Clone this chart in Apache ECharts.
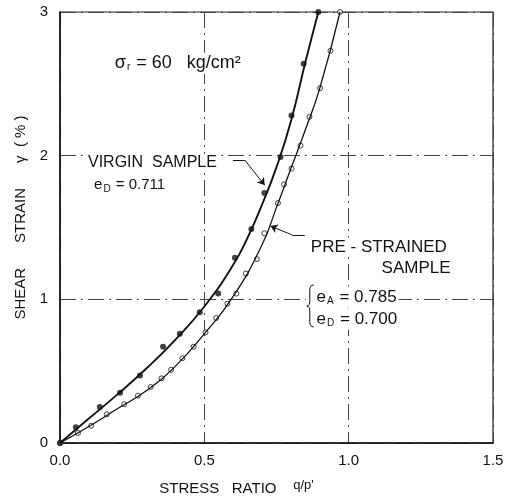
<!DOCTYPE html>
<html>
<head>
<meta charset="utf-8">
<script src="https://cdn.jsdelivr.net/npm/echarts@6/dist/echarts.min.js"></script>
<style>
  html, body { margin: 0; background: #fff; }
  #chart { width: 507px; height: 502px; }
</style>
</head>
<body>
<div id="chart"></div>
<script>
// measured points: stress ratio q/p' vs shear strain (%)
const virginRatio = [0, 0.055, 0.138, 0.208, 0.277, 0.357, 0.415, 0.484, 0.548, 0.606, 0.663, 0.708, 0.764, 0.802, 0.844, 0.895];
const virginStrain = [0, 0.11, 0.25, 0.35, 0.47, 0.67, 0.76, 0.91, 1.04, 1.29, 1.49, 1.74, 1.99, 2.28, 2.64, 3.0];

const preRatio = [0, 0.062, 0.108, 0.162, 0.222, 0.270, 0.314, 0.352, 0.385, 0.424, 0.463, 0.504, 0.541, 0.580, 0.611, 0.644, 0.682, 0.708, 0.755, 0.776, 0.802, 0.833, 0.864, 0.901, 0.937, 0.970];
const preStrain = [0, 0.07, 0.12, 0.20, 0.27, 0.33, 0.39, 0.45, 0.51, 0.59, 0.67, 0.77, 0.87, 0.97, 1.04, 1.18, 1.28, 1.46, 1.67, 1.80, 1.91, 2.07, 2.27, 2.47, 2.73, 3.0];

// hand-drawn fitted curves
const virginCurveRatio = [0, 0.1, 0.2, 0.3, 0.4, 0.5, 0.6, 0.65, 0.7, 0.75, 0.8, 0.85, 0.895];
const virginCurveStrain = [0, 0.17, 0.34, 0.52, 0.72, 0.95, 1.24, 1.43, 1.66, 1.92, 2.24, 2.65, 3.0];

const preCurveRatio = [0, 0.1, 0.2, 0.3, 0.4, 0.5, 0.6, 0.7, 0.75, 0.8, 0.85, 0.9, 0.97];
const preCurveStrain = [0, 0.115, 0.24, 0.365, 0.535, 0.76, 1.02, 1.38, 1.64, 1.91, 2.18, 2.47, 3.0];

const xTicks = ['0.0', '0.5', '1.0', '1.5'];
const yTicks = ['0', '1', '2', '3'];

const ink = '#111';
const font = '"Liberation Sans", Arial, sans-serif';

const chart = echarts.init(document.getElementById('chart'));

function pairs(xs, ys) { return xs.map((x, i) => [x, ys[i]]); }

const sub = { fontSize: 10, fontFamily: font, color: ink, padding: [9, 1, 0, 1] };

chart.setOption({
  animation: false,
  grid: { left: 60, right: 14, top: 12, bottom: 59, show: true, borderColor: '#222', borderWidth: 1.2 },
  xAxis: {
    type: 'value', min: 0, max: 1.5, interval: 0.5,
    axisLine: { lineStyle: { color: ink, width: 1.5 } },
    axisTick: { show: false },
    axisLabel: { color: ink, fontSize: 15, fontFamily: font, margin: 10, formatter: (v) => xTicks[Math.round(v * 2)] },
    splitLine: { lineStyle: { color: '#444', width: 1, type: [16, 5, 2, 5] } },
    name: "STRESS   RATIO    {q|q/p'}",
    nameLocation: 'middle', nameGap: 36,
    nameTextStyle: {
      color: ink, fontSize: 15, fontFamily: font, padding: [0, 80, 0, 0],
      rich: { q: { fontSize: 13, fontFamily: font, color: ink, padding: [0, 0, 6, 0] } },
    },
  },
  yAxis: {
    type: 'value', min: 0, max: 3, interval: 1,
    axisLine: { lineStyle: { color: ink, width: 1.5 } },
    axisTick: { show: false },
    axisLabel: { color: ink, fontSize: 15, fontFamily: font, margin: 12, formatter: (v) => yTicks[v] },
    splitLine: { lineStyle: { color: '#444', width: 1, type: [16, 5, 2, 5] } },
    name: 'SHEAR      STRAIN      γ  ( % )',
    nameLocation: 'middle', nameGap: 30, nameRotate: 90,
    nameTextStyle: { color: ink, fontSize: 15, fontFamily: font, padding: [0, 0, 0, 20] },
  },
  series: [
    {
      name: 'pre-strained curve', type: 'line', smooth: 0.5, symbol: 'none',
      data: pairs(preCurveRatio, preCurveStrain),
      lineStyle: { color: ink, width: 1.3 },
      markLine: {
        silent: true, symbol: 'none', label: { show: false },
        lineStyle: { color: ink, width: 1, type: 'solid' },
        data: [
          [{ coord: [0.848, 1.447] }, { coord: [0.806, 1.447] }],
          [{ coord: [0.806, 1.447] }, { coord: [0.729, 1.51], symbol: 'arrow', symbolSize: 7 }],
        ],
      },
    },
    {
      name: 'virgin curve', type: 'line', smooth: 0.5, symbol: 'none',
      data: pairs(virginCurveRatio, virginCurveStrain),
      lineStyle: { color: ink, width: 1.9 },
      markLine: {
        silent: true, symbol: 'none', label: { show: false },
        lineStyle: { color: ink, width: 1, type: 'solid' },
        data: [
          [{ coord: [0.599, 1.97] }, { coord: [0.640, 1.97] }],
          [{ coord: [0.640, 1.97] }, { coord: [0.709, 1.795], symbol: 'arrow', symbolSize: 7 }],
        ],
      },
    },
    {
      name: 'pre-strained', type: 'scatter',
      data: pairs(preRatio, preStrain),
      symbol: 'circle', symbolSize: 5,
      itemStyle: { color: '#fff', borderColor: ink, borderWidth: 1 },
    },
    {
      name: 'virgin', type: 'scatter',
      data: pairs(virginRatio, virginStrain),
      symbol: 'circle', symbolSize: 6,
      itemStyle: { color: ink },
    },
  ],
});

// text notes placed in data units
function note(x, y, text, size, align) {
  const p = chart.convertToPixel({ gridIndex: 0 }, [x, y]);
  return {
    type: 'text', x: p[0], y: p[1], z: 10,
    style: {
      text: text, fill: ink, fontSize: size, fontFamily: font,
      align: align || 'left', verticalAlign: 'middle',
      backgroundColor: '#fff', padding: [1, 2],
      rich: { s: sub, n: { fontSize: size, fontFamily: font, color: ink } },
    },
  };
}

// curly brace grouping the two void ratios, top-left corner in data units
function brace(x, y) {
  const p = chart.convertToPixel({ gridIndex: 0 }, [x, y]);
  const st = { fill: 'none', stroke: ink, lineWidth: 1 };
  const curve = (x1, y1, cx1, cy1, cx2, cy2, x2, y2) => ({
    type: 'bezierCurve', shape: { x1, y1, cpx1: cx1, cpy1: cy1, cpx2: cx2, cpy2: cy2, x2, y2 }, style: st,
  });
  const line = (x1, y1, x2, y2) => ({ type: 'line', shape: { x1, y1, x2, y2 }, style: st });
  return {
    type: 'group', x: p[0], y: p[1], z: 10,
    children: [
      { type: 'rect', shape: { x: -1, y: 0, width: 9, height: 42 }, style: { fill: '#fff' } },
      curve(7, 0, 4, 0, 3, 2, 3, 5),
      line(3, 5, 3, 16),
      curve(3, 16, 3, 19, 2, 21, 0, 21),
      curve(0, 21, 2, 21, 3, 23, 3, 26),
      line(3, 26, 3, 37),
      curve(3, 37, 3, 40, 4, 42, 7, 42),
    ],
  };
}

chart.setOption({
  graphic: [
    note(0.183, 2.644, '{n|σ}{s|r}{n| = 60   kg/cm²}', 18),
    note(0.09, 1.949, 'VIRGIN  SAMPLE', 16),
    note(0.111, 1.795, '{n|e}{s|D}{n| = 0.711}', 15),
    note(0.862, 1.364, 'PRE - STRAINED', 17),
    note(1.36, 1.218, 'SAMPLE', 17, 'right'),
    brace(0.855, 1.1),
    note(0.882, 1.016, '{n|e}{s|A}{n| = 0.785}', 17),
    note(0.882, 0.863, '{n|e}{s|D}{n| = 0.700}', 17),
  ],
});
</script>
</body>
</html>
